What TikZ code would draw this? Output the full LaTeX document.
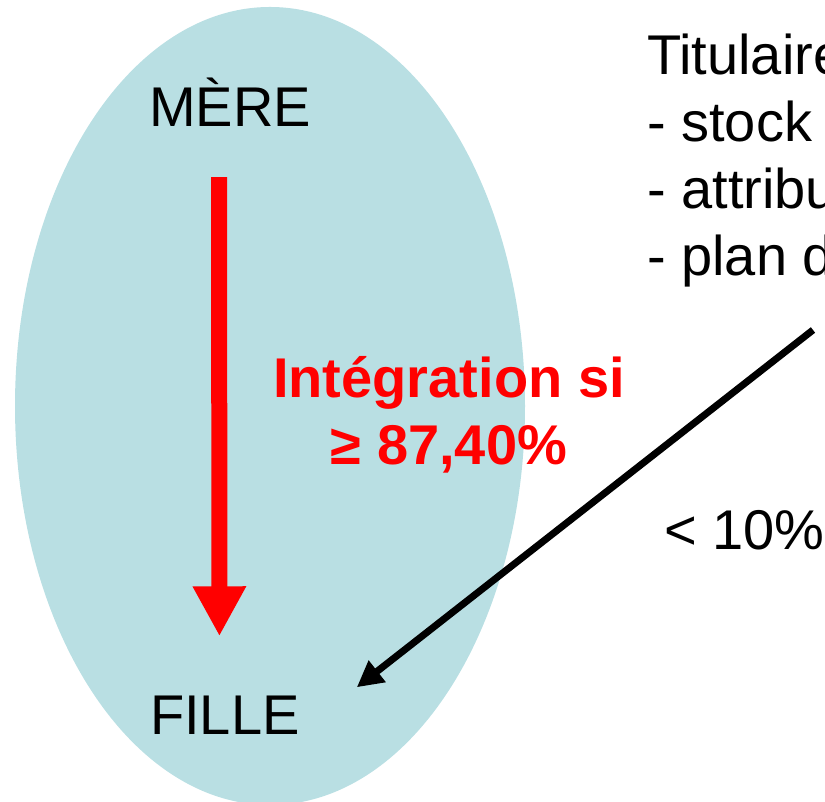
\documentclass[tikz,border=0pt]{standalone}
\usepackage{fontspec}
\setmainfont{Liberation Sans}
\usetikzlibrary{arrows.meta,calc}
\definecolor{poolblue}{RGB}{185,223,227}
\definecolor{flowred}{RGB}{255,0,0}
\begin{document}
\begin{tikzpicture}[x=1pt,y=1pt,
  txt/.style={inner sep=0pt, font=\fontsize{56}{64}\selectfont},
  redtxt/.style={txt, text=flowred, font=\fontsize{56}{64}\selectfont\bfseries, anchor=base},
  flow/.style={draw=flowred, line width=16pt,
    -{Triangle[length=50pt,width=50pt]}},
  holderarrow/.style={draw=black, line width=7pt,
    -{Triangle[length=26pt,width=26pt]}}]
\useasboundingbox (0,0) rectangle (825,802);

% group perimeter
\fill[poolblue] (270,396) ellipse [x radius=255, y radius=399];

% companies
\node[txt, anchor=base west] (mere) at (149,675) {MÈRE};
\node[txt, anchor=base west] (fille) at (150,67) {FILLE};

% holders and their instruments
\node[txt, anchor=base west] (tit) at (647,727) {Titulaires};
\node[txt, anchor=base west] (l1) at (647,660) {- stock options};
\node[txt, anchor=base west] (l2) at (647,593) {- attributions gratuites};
\node[txt, anchor=base west] (l3) at (647,526) {- plan d'épargne};

% thresholds
\node[redtxt] (rule1) at (449,404) {Intégration si};
\node[redtxt] (rule2) at (449,337) {≥ 87,40\%};
\node[txt, anchor=base west] (share) at (664,252) {< 10\%};

% connectors
\draw[flow] ($(mere.south)+(-11,-50)$) -- ($(fille.north)+(-5.5,60)$);
\coordinate (holder) at (813,472);
\draw[holderarrow] (holder) -- ($(fille.north east)+(57,9)$);
\end{tikzpicture}
\end{document}
